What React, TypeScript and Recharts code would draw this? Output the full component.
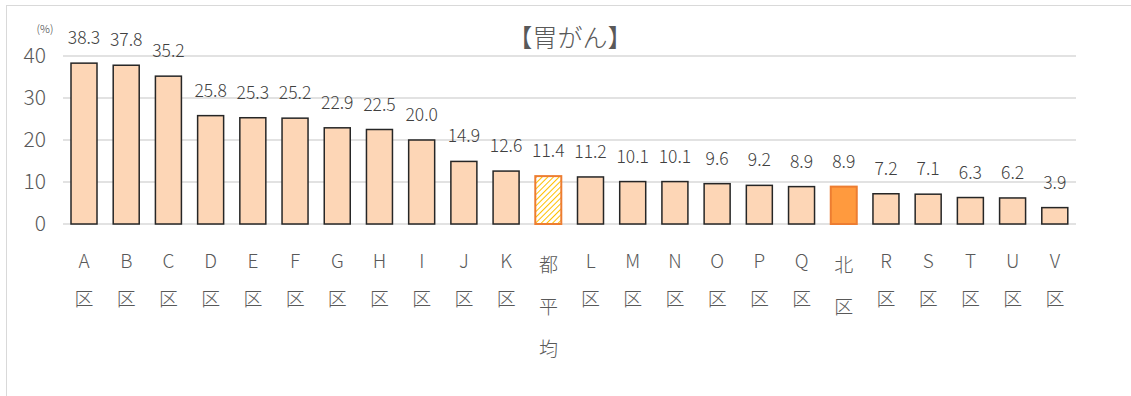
import React from 'react';
import { BarChart, Bar, XAxis, YAxis, CartesianGrid, LabelList } from 'recharts';

const categories = ['A区','B区','C区','D区','E区','F区','G区','H区','I区','J区','K区','都平均','L区','M区','N区','O区','P区','Q区','北区','R区','S区','T区','U区','V区'];
const values = [38.3,37.8,35.2,25.8,25.3,25.2,22.9,22.5,20.0,14.9,12.6,11.4,11.2,10.1,10.1,9.6,9.2,8.9,8.9,7.2,7.1,6.3,6.2,3.9];
const yTicks = [0,10,20,30,40];

const data = categories.map((c, i) => ({ name: c, value: values[i] }));

const FONT = '"Noto Sans CJK JP", "Noto Sans", sans-serif';

const BarShape = (props: any) => {
  const { x, y, width, height, payload } = props;
  if (payload.name === '都平均') {
    return (
      <g>
        <defs>
          <pattern id="hatch" patternUnits="userSpaceOnUse" width="4" height="4" patternTransform="rotate(45)">
            <rect width="4" height="4" fill="#ffffff" />
            <line x1="0" y1="0" x2="0" y2="4" stroke="#FFC000" strokeWidth="2" />
          </pattern>
        </defs>
        <rect x={x} y={y} width={width} height={height} fill="url(#hatch)" stroke="#ED7D31" strokeWidth={2} />
      </g>
    );
  }
  if (payload.name === '北区') {
    return <rect x={x} y={y} width={width} height={height} fill="#FF9A3E" stroke="#ED7D31" strokeWidth={2} />;
  }
  return <rect x={x} y={y} width={width} height={height} fill="#FDD6B6" stroke="#262626" strokeWidth={1.5} />;
};

const XTick = (props: any) => {
  const { x, y, payload } = props;
  const chars = Array.from(String(payload.value));
  const isCjkFirst = /[\u3000-\u9fff]/.test(chars[0]);
  return (
    <g>
      {chars.map((ch, i) => (
        <text key={i} x={x} y={y + (isCjkFirst ? 41 : 37) + i * (isCjkFirst ? 42 : 38)} dy="0.35em" textAnchor="middle" fill="#595959" fontSize={19} fontWeight={300} fontFamily={FONT}>
          {ch}
        </text>
      ))}
    </g>
  );
};

const ValueLabel = (props: any) => {
  const { x, y, width, value } = props;
  return (
    <text x={x + width / 2} y={y - 19} textAnchor="middle" fill="#404040" fontSize={17.5} fontWeight={300} fontFamily={FONT}>
      {Number(value).toFixed(1)}
    </text>
  );
};

export default function App() {
  return (
    <div style={{ position: 'fixed', left: 0, top: 0, width: 1131, height: 396, overflow: 'hidden', background: '#fff' }}>
      <div style={{ position: 'absolute', left: 6, top: 5, width: 1140, height: 400, border: '1px solid #d9d9d9', boxSizing: 'border-box' }} />
      <div style={{ position: 'absolute', left: 0, top: 0 }}>
        <BarChart width={1131} height={396} data={data} margin={{ top: 56, right: 55, bottom: 32, left: 13 }}>
          <CartesianGrid vertical={false} stroke="#d9d9d9" strokeWidth={1.5} />
          <XAxis dataKey="name" axisLine={false} tickLine={false} tickSize={0} tickMargin={0} height={140} interval={0} tick={<XTick />} />
          <YAxis domain={[0, 40]} ticks={yTicks} axisLine={false} tickLine={false} tickSize={0} tickMargin={17} width={50} tick={{ fill: '#595959', fontSize: 21, fontWeight: 300, fontFamily: FONT }} />
          <Bar dataKey="value" barSize={26} isAnimationActive={false} shape={<BarShape />}>
            <LabelList dataKey="value" content={<ValueLabel />} />
          </Bar>
          <text x={570} y={38} dy="0.35em" textAnchor="middle" fill="#595959" fontSize={25} fontWeight={300} fontFamily={FONT}>【胃がん】</text>
          <text x={45} y={29} dy="0.35em" textAnchor="middle" fill="#404040" fontSize={11} fontWeight={300} fontFamily={FONT}>(%)</text>
        </BarChart>
      </div>
    </div>
  );
}
